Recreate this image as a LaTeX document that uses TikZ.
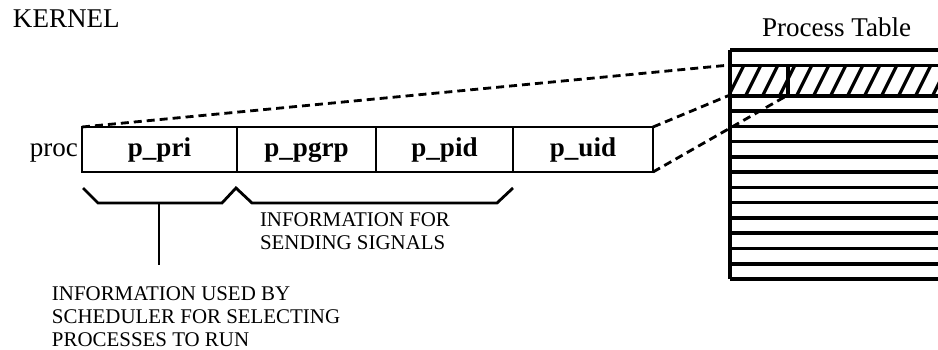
\documentclass[tikz,border=0pt]{standalone}
\usepackage{fontspec}
\setmainfont{Liberation Serif}
\usetikzlibrary{positioning}

\begin{document}
\begin{tikzpicture}[
    field/.style={draw=black,thick,rectangle,inner sep=0pt,outer sep=0pt,minimum height=0.45cm,text height=0.19cm,text depth=0.055cm,font=\fontsize{7.7}{9}\bfseries\selectfont},
    lbl/.style={inner sep=0pt,outer sep=0pt,font=\fontsize{7.7}{9}\selectfont},
    note/.style={inner sep=0pt,outer sep=0pt,align=left,font=\fontsize{5.95}{6.5}\selectfont},
    map/.style={black,thick,dash pattern=on 0.08cm off 0.05cm},
    tbl/.style={black,line width=1pt}
]
    \useasboundingbox (0,0) rectangle (9.38,3.49);

    \node[lbl,anchor=base west] (kernel) at (0.13,3.21) {KERNEL};

    % proc structure
    \node[field,minimum width=1.55cm] (pri) at (1.595,1.995) {p\_pri};
    \node[field,minimum width=1.39cm] (pgrp) at (3.065,1.995) {p\_pgrp};
    \node[field,minimum width=1.37cm] (pid) at (4.445,1.995) {p\_pid};
    \node[field,minimum width=1.40cm] (uid) at (5.830,1.995) {p\_uid};
    \node[lbl,text height=0.19cm,text depth=0.055cm,left=0.04cm of pri] (proc) {proc};

    % brackets below the fields
    \draw[black,thick] (0.83,1.61) -- (0.98,1.46) -- (2.22,1.46) -- (2.36,1.61) -- (2.52,1.46) -- (4.97,1.46) -- (5.13,1.61);
    \coordinate (brkpri) at (1.59,1.46);
    \coordinate (brkend) at (1.59,0.84);
    \draw[black,thick] (brkpri) -- (brkend);

    \node[note,anchor=north west] (signals) at (2.60,1.36) {INFORMATION FOR\\SENDING SIGNALS};
    \node[note,anchor=north west] (sched) at (0.52,0.62) {INFORMATION USED BY\\SCHEDULER FOR SELECTING\\PROCESSES TO RUN};

    % process table
    \node[lbl,anchor=base west] (ptable) at (7.62,3.12) {Process Table};
    \begin{scope}
        \clip (7.30,2.54) rectangle (9.38,2.84);
        \foreach \x in {7.12,7.29,...,9.50}
            \draw[black,line width=0.9pt] (\x,2.54) -- (\x+0.15,2.84);
    \end{scope}
    \foreach \i in {0,1,3,4,5,6,7,8,9,10,11,12,13,14,15}
        \draw[tbl] (7.30,2.99-\i*0.1527) -- (9.38,2.99-\i*0.1527);
    \draw[tbl] (7.30,2.99) -- (7.30,0.70);
    \coordinate (rowtop) at (7.30,2.84);
    \coordinate (rowbot) at (7.30,2.54);
    \coordinate (rowdiv) at (7.88,2.54);
    \draw[tbl] (7.88,2.84) -- (rowdiv);

    % dashed lines from proc to the table entry
    \draw[map] (pri.north west) -- (rowtop);
    \draw[map] (uid.north east) -- (rowbot);
    \draw[map] (uid.south east) -- (rowdiv);
\end{tikzpicture}
\end{document}
